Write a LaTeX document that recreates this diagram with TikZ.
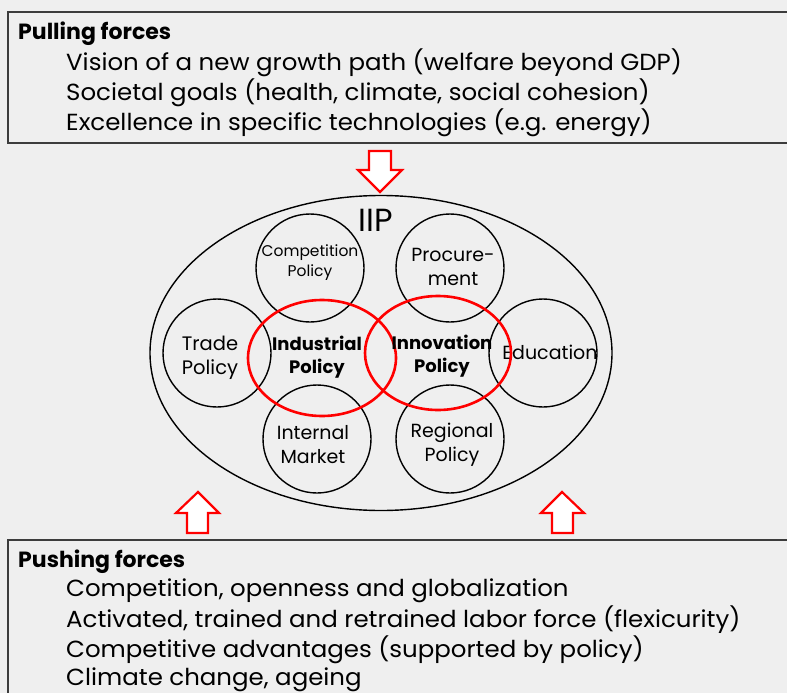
\documentclass[tikz,border=0pt]{standalone}
\usepackage{fontspec}
\setmainfont{Poppins}
\newfontfamily\bodyfont[FakeStretch=1.05]{Poppins}
\usetikzlibrary{shapes.geometric}
\definecolor{bg}{RGB}{239,239,239}
\definecolor{frame}{RGB}{60,60,60}
\definecolor{redline}{RGB}{255,0,0}
\tikzset{
  txt/.style={anchor=west,inner sep=0pt,font=\bodyfont\fontsize{23.3}{26}\selectfont},
  head/.style={anchor=west,inner sep=0pt,font=\fontsize{22}{26}\selectfont\bfseries},
  pol/.style={circle,draw=black,line width=1.4pt,minimum size=108pt,inner sep=0pt},
  poltext/.style={inner sep=0pt,align=center,font=\fontsize{19}{24}\selectfont},
  core/.style={ellipse,draw=redline,line width=2.6pt,inner sep=0pt},
  coretext/.style={inner sep=0pt,align=center,font=\fontsize{18}{22.5}\selectfont\bfseries},
  blockarrow/.style={draw=redline,fill=white,line width=2.2pt,line join=miter},
  forcebox/.style={draw=frame,line width=1.2pt}
}
\begin{document}
\begin{tikzpicture}[x=1pt,y=-1pt]
\fill[bg] (0,0) rectangle (787,693);
\useasboundingbox (0,0) rectangle (787,693);
% boxes
\draw[forcebox] (790,12) -- (8,12) -- (8,143) -- (790,143);
\draw[forcebox] (790,540) -- (8,540) -- (8,700);
\node[head] (pullh) at (18,34) {Pulling forces};
\node[txt] (pull1) at (66,63) {Vision of a new growth path (welfare beyond GDP)};
\node[txt] (pull2) at (66,93) {Societal goals (health, climate, social cohesion)};
\node[txt] (pull3) at (66,123) {Excellence in specific technologies (e.g. energy)};
\node[head] (pushh) at (18,562) {Pushing forces};
\node[txt] (push1) at (66,591) {Competition, openness and globalization};
\node[txt] (push2) at (66,620) {Activated, trained and retrained labor force (flexicurity)};
\node[txt] (push3) at (66,650) {Competitive advantages (supported by policy)};
\node[txt] (push4) at (66,680) {Climate change, ageing};
% arrows
\draw[blockarrow] (369,151) -- (391,151) -- (391,170) -- (402,170) -- (380,192) -- (358,170) -- (369,170) -- cycle;
\draw[blockarrow] (187,533) -- (208,533) -- (208,513) -- (219,513) -- (198,492) -- (176,513) -- (187,513) -- cycle;
\draw[blockarrow] (552,533) -- (573,533) -- (573,513) -- (584,513) -- (562,492) -- (541,513) -- (552,513) -- cycle;
% IIP ellipse
\node[ellipse,draw=black,line width=1.4pt,minimum width=462pt,minimum height=315pt,inner sep=0pt] (iip) at (381,353) {};
\node[inner sep=0pt,font=\fontsize{32}{36}\selectfont] (iiplabel) at (376,220) {IIP};
% circles
\node[pol] (comp) at (310,268) {};
\node[pol] (proc) at (450,268) {};
\node[pol] (trade) at (217,353) {};
\node[pol] (edu) at (543,353) {};
\node[pol] (intm) at (317,439) {};
\node[pol] (reg) at (450,439) {};
\node[poltext,font=\fontsize{15.5}{20}\selectfont] (compl) at (310,263) {Competition\\Policy};
\node[poltext] (procl) at (453,267) {Procure-\\ment};
\node[poltext,font=\fontsize{19.5}{24.5}\selectfont] (tradel) at (210,358) {Trade\\Policy};
\node[poltext] (edul) at (550,352) {Education};
\node[poltext] (intml) at (313,445) {Internal\\Market};
\node[poltext] (regl) at (452,445) {Regional\\Policy};
% core ellipses
\node[core,minimum width=148pt,minimum height=116pt] (ind) at (322,358) {};
\node[core,minimum width=146pt,minimum height=114pt] (inn) at (438,353) {};
\node[coretext] (indl) at (317,357) {Industrial\\Policy};
\node[coretext] (innl) at (442,356) {Innovation\\Policy};
\end{tikzpicture}
\end{document}
